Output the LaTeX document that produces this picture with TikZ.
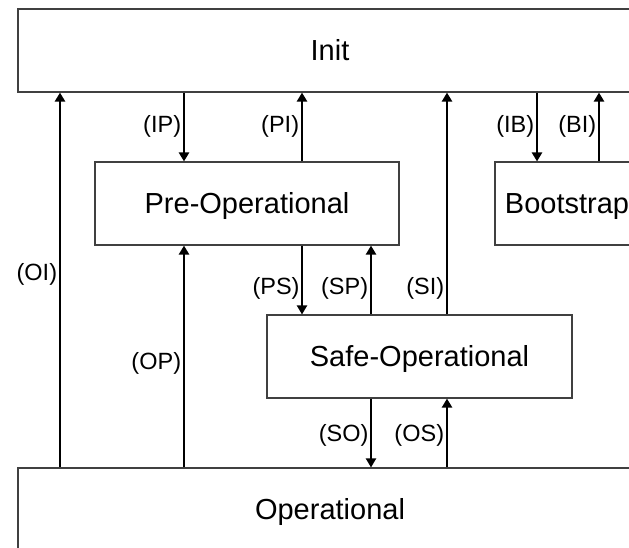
\documentclass[tikz,border=0pt]{standalone}
\usepackage{fontspec}
\setmainfont{Liberation Sans}
\usetikzlibrary{arrows.meta}

\begin{document}
\begin{tikzpicture}
[x=1pt,y=-1pt]
\tikzset{box/.style={draw=black!75,line width=1.1pt,minimum height=83pt,inner sep=0pt,font=\fontsize{29}{34}\selectfont,text height=20.8pt,text depth=0pt}}
\tikzset{arr/.style={line width=2.8pt,-{Triangle[length=9pt,width=10pt]}}}
\tikzset{arrthin/.style={line width=2pt,-{Triangle[length=9pt,width=10pt]}}}
\tikzset{lab/.style={inner sep=1.5pt,font=\fontsize{23.5}{28}\selectfont,text height=16.8pt,text depth=0pt}}
\useasboundingbox (0,0) rectangle (629,547);
\clip (0,0) rectangle (629,547);
\node [box,minimum width=624pt] (init) at (330,50.5) {Init};
\node [box,minimum width=304pt] (pre) at (247,203.5) {Pre-Operational};
\node [box,minimum width=144pt] (boot) at (567,203.5) {Bootstrap};
\node [box,minimum width=305pt] (safe) at (419.5,356.5) {Safe-Operational};
\node [box,minimum width=624pt] (oper) at (330,509.5) {Operational};

\foreach \from/\to/\x/\lab/\p in {oper.north/init.south/60/(OI)/.52,init.south/pre.north/184/(IP)/.46,pre.north/init.south/302/(PI)/.54,oper.north/pre.south/184/(OP)/.48,safe.north/pre.south/371/(SP)/.41,safe.north/init.south/447/(SI)/.13,oper.north/safe.south/447/(OS)/.5,init.south/boot.north/537/(IB)/.46,boot.north/init.south/599/(BI)/.54}
	\draw [arr] (\from -| \x,0) -- (\to -| \x,0) node [lab,left,pos=\p] {\lab};

\foreach \from/\to/\x/\lab/\p in {pre.south/safe.north/302/(PS)/.59,safe.south/oper.north/371/(SO)/.5}
	\draw [arrthin] (\from -| \x,0) -- (\to -| \x,0) node [lab,left,pos=\p] {\lab};

\end{tikzpicture}
\end{document}
